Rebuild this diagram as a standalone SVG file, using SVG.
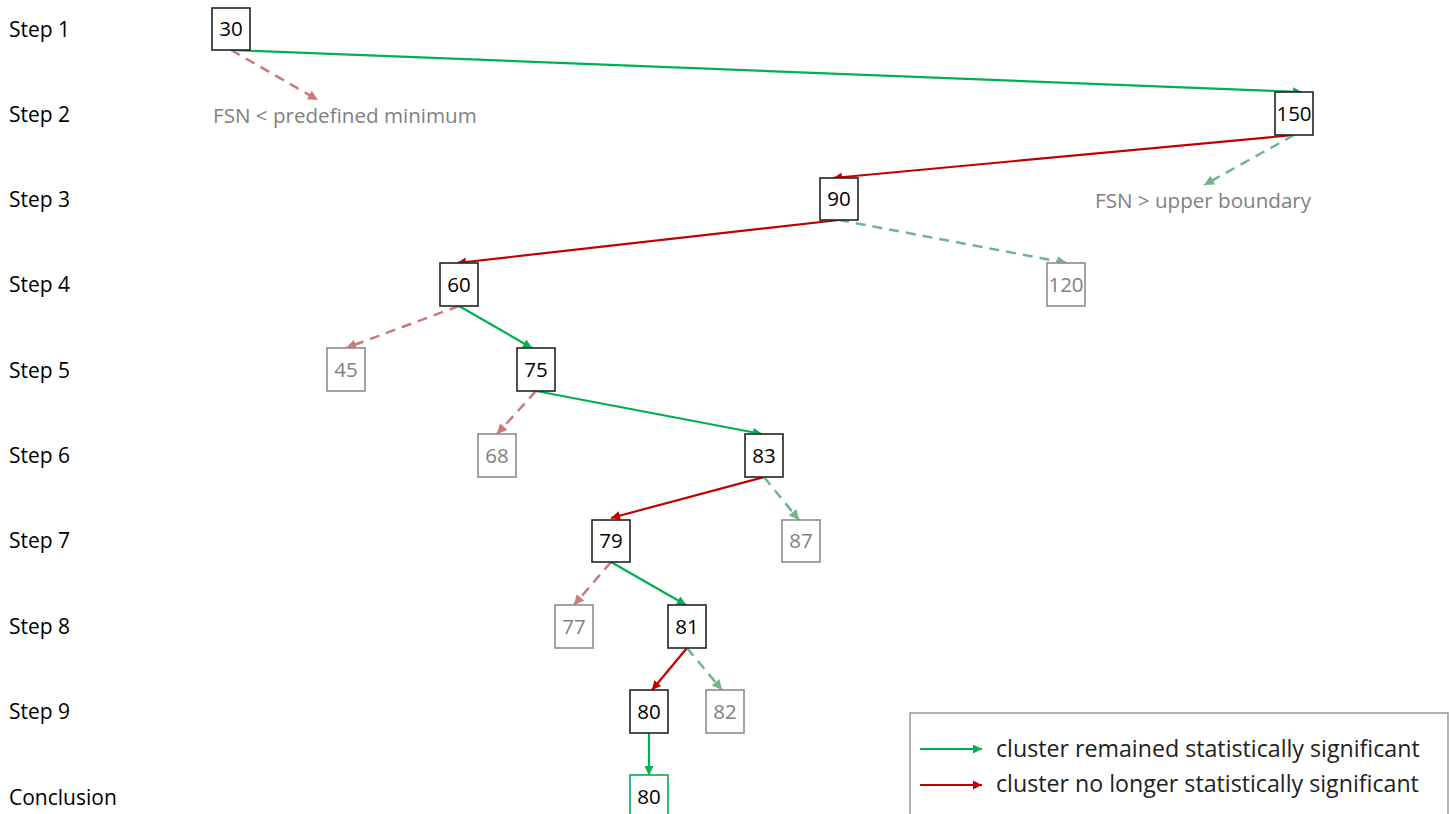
<svg xmlns="http://www.w3.org/2000/svg" width="1452" height="814" viewBox="0 0 1452 814">
<style>
  .lbl{font-family:"Open Sans","Liberation Sans",sans-serif;font-size:21px;fill:#000}
  .note{font-family:"Open Sans","Liberation Sans",sans-serif;font-size:20.6px;fill:#7f7f7f}
  .box{fill:#fff;stroke:#222;stroke-width:1.6}
  .gbox{fill:#fff;stroke:#8c8c8c;stroke-width:1.6}
  .cbox{fill:#fff;stroke:#00b050;stroke-width:1.6}
  .num{font-family:"Open Sans","Liberation Sans",sans-serif;font-size:20.5px;fill:#000;text-anchor:middle}
  .gnum{font-family:"Open Sans","Liberation Sans",sans-serif;font-size:20.5px;fill:#7f7f7f;text-anchor:middle}
  .green{stroke:#00b050;stroke-width:2.2;fill:none;marker-end:url(#ag)}
  .red{stroke:#c00000;stroke-width:2.2;fill:none;marker-end:url(#ar)}
  .dred{stroke:#c77b7b;stroke-width:2.5;fill:none;stroke-dasharray:10 7;marker-end:url(#adr)}
  .dgreen{stroke:#70b58a;stroke-width:2.5;fill:none;stroke-dasharray:10 7;marker-end:url(#adg)}
  .leg{font-family:"Open Sans","Liberation Sans",sans-serif;font-size:23.2px;fill:#222}
</style>
<defs>
  <marker id="ag" viewBox="0 0 10 10" refX="10" refY="5" markerWidth="11" markerHeight="9" markerUnits="userSpaceOnUse" orient="auto"><path d="M0,0L10,5L0,10z" fill="#00b050"/></marker>
  <marker id="ar" viewBox="0 0 10 10" refX="10" refY="5" markerWidth="11" markerHeight="9" markerUnits="userSpaceOnUse" orient="auto"><path d="M0,0L10,5L0,10z" fill="#c00000"/></marker>
  <marker id="adr" viewBox="0 0 10 10" refX="10" refY="5" markerWidth="11" markerHeight="10" markerUnits="userSpaceOnUse" orient="auto"><path d="M0,0L10,5L0,10z" fill="#c77b7b"/></marker>
  <marker id="adg" viewBox="0 0 10 10" refX="10" refY="5" markerWidth="11" markerHeight="10" markerUnits="userSpaceOnUse" orient="auto"><path d="M0,0L10,5L0,10z" fill="#70b58a"/></marker>
</defs>
<rect width="1452" height="814" fill="#fff"/>
<g id="steps">
  <text class="lbl" x="9" y="37">Step 1</text>
  <text class="lbl" x="9" y="122">Step 2</text>
  <text class="lbl" x="9" y="207">Step 3</text>
  <text class="lbl" x="9" y="292">Step 4</text>
  <text class="lbl" x="9" y="378">Step 5</text>
  <text class="lbl" x="9" y="463">Step 6</text>
  <text class="lbl" x="9" y="548">Step 7</text>
  <text class="lbl" x="9" y="634">Step 8</text>
  <text class="lbl" x="9" y="719">Step 9</text>
  <text class="lbl" x="9" y="805">Conclusion</text>
</g>
<g id="notes">
  <text class="note" x="213" y="123">FSN &lt; predefined minimum</text>
  <text class="note" x="1095" y="208">FSN &gt; upper boundary</text>
</g>
<g id="connectors">
  <line class="green" x1="231" y1="50" x2="1302" y2="92"/>
  <line class="dred" x1="231" y1="50" x2="318" y2="100"/>
  <line class="red" x1="1294" y1="135" x2="833" y2="178"/>
  <line class="dgreen" x1="1294" y1="135" x2="1204" y2="185"/>
  <line class="red" x1="839" y1="220" x2="457" y2="263"/>
  <line class="dgreen" x1="839" y1="220" x2="1067" y2="263"/>
  <line class="dred" x1="459" y1="306" x2="346" y2="348"/>
  <line class="green" x1="459" y1="306" x2="532" y2="348"/>
  <line class="dred" x1="536" y1="391" x2="497" y2="434"/>
  <line class="green" x1="536" y1="391" x2="762" y2="434"/>
  <line class="red" x1="764" y1="477" x2="611" y2="518"/>
  <line class="dgreen" x1="764" y1="477" x2="799" y2="520"/>
  <line class="dred" x1="611" y1="562" x2="574" y2="605"/>
  <line class="green" x1="611" y1="562" x2="686" y2="605"/>
  <line class="red" x1="687" y1="648" x2="652" y2="690"/>
  <line class="dgreen" x1="687" y1="648" x2="722" y2="690"/>
  <line class="green" x1="649" y1="733" x2="649" y2="775"/>
</g>
<g id="n30"><rect class="box" x="212" y="8" width="38" height="42"/><text class="num" x="231" y="36">30</text></g>
<g id="n150"><rect class="box" x="1275" y="92" width="38" height="43"/><text class="num" x="1294" y="121">150</text></g>
<g id="n90"><rect class="box" x="820" y="178" width="38" height="42"/><text class="num" x="839" y="206">90</text></g>
<g id="n120"><rect class="gbox" x="1047" y="263" width="38" height="43"/><text class="gnum" x="1066" y="292">120</text></g>
<g id="n60"><rect class="box" x="440" y="263" width="38" height="43"/><text class="num" x="459" y="292">60</text></g>
<g id="n45"><rect class="gbox" x="327" y="348" width="38" height="43"/><text class="gnum" x="346" y="377">45</text></g>
<g id="n75"><rect class="box" x="517" y="348" width="38" height="43"/><text class="num" x="536" y="377">75</text></g>
<g id="n68"><rect class="gbox" x="478" y="434" width="38" height="43"/><text class="gnum" x="497" y="463">68</text></g>
<g id="n83"><rect class="box" x="745" y="434" width="38" height="43"/><text class="num" x="764" y="463">83</text></g>
<g id="n79"><rect class="box" x="592" y="520" width="38" height="42"/><text class="num" x="611" y="548">79</text></g>
<g id="n87"><rect class="gbox" x="782" y="520" width="38" height="42"/><text class="gnum" x="801" y="548">87</text></g>
<g id="n77"><rect class="gbox" x="555" y="605" width="38" height="43"/><text class="gnum" x="574" y="634">77</text></g>
<g id="n81"><rect class="box" x="668" y="605" width="38" height="43"/><text class="num" x="687" y="634">81</text></g>
<g id="n80"><rect class="box" x="630" y="690" width="38" height="43"/><text class="num" x="649" y="719">80</text></g>
<g id="n82"><rect class="gbox" x="706" y="690" width="38" height="43"/><text class="gnum" x="725" y="719">82</text></g>
<g id="nconc"><rect class="cbox" x="630" y="775" width="38" height="45"/><text class="num" x="649" y="804">80</text></g>
<g id="legend">
  <rect x="910" y="713" width="538" height="110" fill="#fff" stroke="#7f8a99" stroke-width="1.3"/>
  <line class="green" x1="920" y1="749" x2="982" y2="749"/>
  <line class="red" x1="920" y1="785" x2="982" y2="785"/>
  <text class="leg" x="996" y="757">cluster remained statistically significant</text>
  <text class="leg" x="996" y="792">cluster no longer statistically significant</text>
</g>
</svg>
